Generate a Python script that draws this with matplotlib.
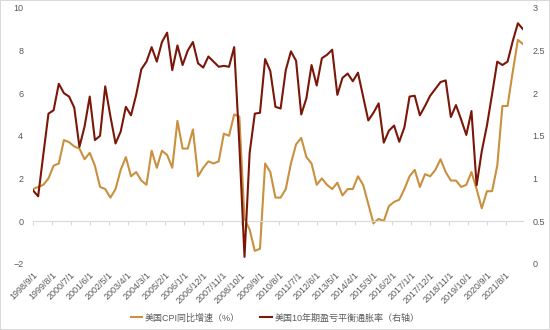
import matplotlib
matplotlib.use("Agg")
import matplotlib.pyplot as plt
import numpy as np
import pandas as pd

plt.rcParams['font.family'] = ['Liberation Sans', 'Noto Sans CJK SC', 'DejaVu Sans']

# quarterly observations, 1998/9 .. 2022/6
dates = pd.date_range('1998-09-01', periods=96, freq='3MS')

cpi_yoy = [1.5, 1.6, 1.7, 2.0, 2.6, 2.7, 3.8, 3.7, 3.5, 3.4, 2.9, 3.2,
           2.6, 1.6, 1.5, 1.1, 1.5, 2.4, 3.0, 2.1, 2.3, 1.9, 1.7, 3.3,
           2.5, 3.3, 3.1, 2.5, 4.7, 3.4, 3.4, 4.3, 2.1, 2.5, 2.8, 2.7,
           2.8, 4.1, 4.0, 5.0, 4.9, 0.1, -0.4, -1.4, -1.3, 2.7, 2.3, 1.1,
           1.1, 1.5, 2.7, 3.6, 3.9, 3.0, 2.7, 1.7, 2.0, 1.7, 1.5, 1.8,
           1.2, 1.5, 1.5, 2.1, 1.7, 0.8, -0.1, 0.1, 0.0, 0.7, 0.9, 1.0,
           1.5, 2.1, 2.4, 1.6, 2.2, 2.1, 2.4, 2.9, 2.3, 1.9, 1.9, 1.6,
           1.7, 2.3, 1.5, 0.6, 1.4, 1.4, 2.6, 5.4, 5.4, 7.0, 8.5, 8.3]

breakeven_10y = [0.86, 0.79, 1.28, 1.76, 1.80, 2.11, 2.00, 1.96, 1.83, 1.37, 1.61, 1.96,
                 1.45, 1.50, 2.08, 1.73, 1.41, 1.55, 1.84, 1.74, 1.98, 2.28, 2.37, 2.54,
                 2.37, 2.60, 2.71, 2.27, 2.56, 2.33, 2.50, 2.60, 2.35, 2.30, 2.43, 2.37,
                 2.31, 2.32, 2.31, 2.54, 1.40, 0.08, 1.30, 1.76, 1.77, 2.40, 2.26, 1.84,
                 1.82, 2.27, 2.49, 2.38, 1.75, 1.94, 2.33, 2.09, 2.41, 2.45, 2.51, 1.98,
                 2.18, 2.23, 2.14, 2.24, 1.96, 1.68, 1.77, 1.88, 1.42, 1.56, 1.62, 1.43,
                 1.60, 1.96, 1.97, 1.74, 1.85, 1.97, 2.05, 2.13, 2.15, 1.72, 1.86, 1.69,
                 1.51, 1.79, 0.92, 1.32, 1.62, 1.99, 2.37, 2.33, 2.37, 2.61, 2.82, 2.75]

tick_labels = ['1998/9/1', '1999/8/1', '2000/7/1', '2001/6/1', '2002/5/1', '2003/4/1',
               '2004/3/1', '2005/2/1', '2006/1/1', '2006/12/1', '2007/11/1', '2008/10/1',
               '2009/9/1', '2010/8/1', '2011/7/1', '2012/6/1', '2013/5/1', '2014/4/1',
               '2015/3/1', '2016/2/1', '2017/1/1', '2017/12/1', '2018/11/1', '2019/10/1',
               '2020/9/1', '2021/8/1']

label_cpi = '美国CPI同比增速（%）'
label_be = '美国10年期盈亏平衡通胀率（右轴）'

c_cpi = '#C9913F'
c_be = '#7A1709'
grey = '#595959'


def month_index(d):
    return (d.year - 1998) * 12 + (d.month - 9)


x = np.array([month_index(d) for d in dates])
tick_pos = [month_index(pd.Timestamp(t.replace('/', '-'))) for t in tick_labels]

fig = plt.figure(figsize=(5.5, 3.3), dpi=100, linewidth=1.2, edgecolor='#d9d9d9')
ax = fig.add_axes([0.06, 0.201, 0.891, 0.775])
ax2 = ax.twinx()

l1, = ax.plot(x, cpi_yoy, color=c_cpi, lw=1.5, label=label_cpi)
l2, = ax2.plot(x, breakeven_10y, color=c_be, lw=1.5, label=label_be)

ax.set_xlim(x[0], x[-1])
ax.set_ylim(-2, 10)
ax.set_yticks([-2, 0, 2, 4, 6, 8, 10])
ax2.set_ylim(0, 3)
ax2.set_yticks([0, 0.5, 1, 1.5, 2, 2.5, 3])
ax2.set_yticklabels(['0', '0.5', '1', '1.5', '2', '2.5', '3'])

for a in (ax, ax2):
    for s in ['top', 'left', 'right', 'bottom']:
        a.spines[s].set_visible(False)

# horizontal axis line sitting at zero with small tick marks
ax.spines['bottom'].set_visible(True)
ax.spines['bottom'].set_position(('data', 0))
ax.spines['bottom'].set_color('#d9d9d9')
ax.set_xticks(tick_pos)
ax.tick_params(axis='x', length=3, color='#d9d9d9', labelbottom=False)
ax.tick_params(axis='y', length=0, labelsize=6.5, labelcolor=grey, pad=7)
ax2.tick_params(axis='y', length=0, labelsize=6.5, labelcolor=grey, pad=7)

# date labels below the plot area
sec = ax.secondary_xaxis('bottom')
sec.set_xticks(tick_pos)
sec.set_xticklabels(tick_labels, rotation=45, ha='right', rotation_mode='anchor')
sec.tick_params(length=0, labelsize=6.5, labelcolor=grey, pad=5)
sec.spines['bottom'].set_visible(False)

fig.legend(handles=[l1, l2], loc='center', bbox_to_anchor=(0.5, 1 - 318 / 330),
           ncol=2, frameon=False, fontsize=6.5, labelcolor=grey,
           handlelength=1.3, handletextpad=0.3, columnspacing=2.2)

fig.savefig('out.png', dpi=100)
